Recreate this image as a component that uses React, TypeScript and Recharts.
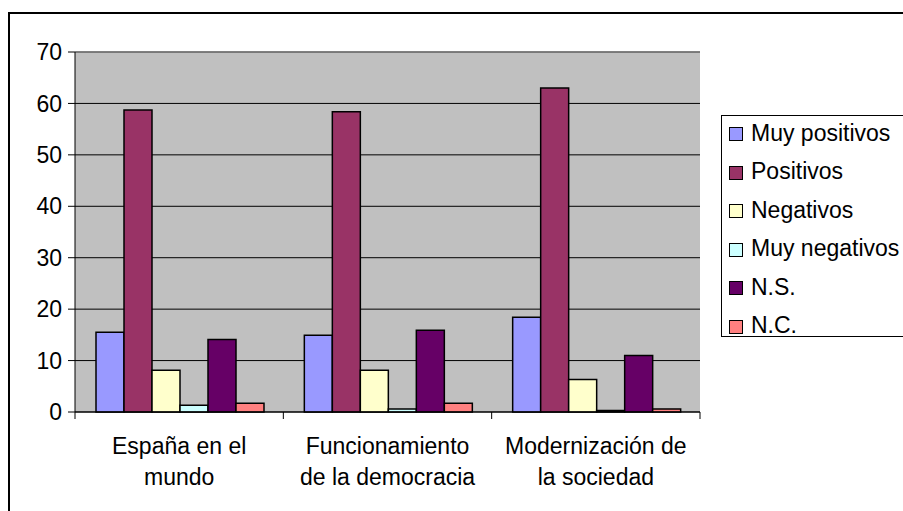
import { BarChart, Bar, XAxis, YAxis, CartesianGrid, Legend, ReferenceLine } from 'recharts'

const categories = ['España en el mundo', 'Funcionamiento de la democracia', 'Modernización de la sociedad']
const tickLines = [
  ['España en el', 'mundo'],
  ['Funcionamiento', 'de la democracia'],
  ['Modernización de', 'la sociedad'],
]
const yTicks = [0, 10, 20, 30, 40, 50, 60, 70]

const muyPositivos = [15.5, 14.9, 18.4]
const positivos = [58.7, 58.4, 63.0]
const negativos = [8.1, 8.1, 6.3]
const muyNegativos = [1.3, 0.6, 0.3]
const ns = [14.1, 15.9, 11.0]
const nc = [1.7, 1.7, 0.6]

const series = [
  { key: 'mp', name: 'Muy positivos', values: muyPositivos, color: '#9999FF' },
  { key: 'p', name: 'Positivos', values: positivos, color: '#993366' },
  { key: 'n', name: 'Negativos', values: negativos, color: '#FFFFCC' },
  { key: 'mn', name: 'Muy negativos', values: muyNegativos, color: '#CCFFFF' },
  { key: 'ns', name: 'N.S.', values: ns, color: '#660066' },
  { key: 'nc', name: 'N.C.', values: nc, color: '#FF8080' },
]

const data = categories.map((c, i) => {
  const row: Record<string, string | number> = { name: c }
  series.forEach(s => { row[s.key] = s.values[i] })
  return row
})

const W = 903
const H = 511
const margin = { top: 52, right: 203, left: 15, bottom: 19 }
const yAxisW = 60
const halfBand = (W - margin.left - margin.right - yAxisW) / categories.length / 2
const FONT = '"Liberation Sans", Arial, sans-serif'
const FS = 23

function CategoryTick(props: any) {
  const { x, y, index } = props
  const lines = tickLines[index] || []
  return (
    <g>
      <line x1={x - halfBand} x2={x - halfBand} y1={y} y2={y + 7} stroke="#000" />
      {index === categories.length - 1 && (
        <line x1={x + halfBand} x2={x + halfBand} y1={y} y2={y + 7} stroke="#000" />
      )}
      {lines.map((l, i) => (
        <text key={i} x={x} y={y + 42 + i * 31} textAnchor="middle" fontSize={FS} fontFamily={FONT} fill="#000">
          {l}
        </text>
      ))}
    </g>
  )
}

function LegendBox() {
  return (
    <div style={{ border: '1px solid #000', background: '#fff', width: 220, height: 222, boxSizing: 'border-box' }}>
      <div style={{ transform: 'translateY(-2px)' }}>
        {series.map(s => (
          <div key={s.key} style={{ display: 'flex', alignItems: 'center', height: 38.5, fontFamily: FONT, fontSize: FS, color: '#000' }}>
            <span style={{ display: 'inline-block', width: 12, height: 12, border: '1px solid #000', background: s.color, marginLeft: 7, marginRight: 8, marginTop: 2, flexShrink: 0 }} />
            <span style={{ whiteSpace: 'nowrap' }}>{s.name}</span>
          </div>
        ))}
      </div>
    </div>
  )
}

export default function App() {
  return (
    <div style={{ position: 'fixed', left: 0, top: 0, width: W, height: H, overflow: 'hidden', background: '#fff', fontFamily: FONT }}>
      <div style={{ position: 'absolute', left: 8, top: 12, width: 1000, height: 600, border: '2px solid #000' }} />
      <div style={{ position: 'absolute', left: 0, top: 0 }}>
        <BarChart width={W} height={H} data={data} margin={margin} barCategoryGap={21} barGap={0}>
          <CartesianGrid vertical={false} fill="#C0C0C0" stroke="#000" fillOpacity={1} />
          <ReferenceLine y={70} stroke="#808080" strokeWidth={1.5} ifOverflow="visible" />
          <XAxis
            dataKey="name"
            height={80}
            axisLine={{ stroke: '#000' }}
            tickLine={false}
            tickSize={0}
            tickMargin={0}
            interval={0}
            tick={<CategoryTick />}
          />
          <YAxis
            domain={[0, 70]}
            ticks={yTicks}
            width={yAxisW}
            axisLine={{ stroke: '#000' }}
            tickLine={{ stroke: '#000' }}
            tickSize={7}
            tickMargin={6}
            tick={{ fontSize: FS, fontFamily: FONT, fill: '#000' }}
          />
          <YAxis
            yAxisId="r"
            orientation="right"
            width={0}
            domain={[0, 70]}
            tick={false}
            tickLine={false}
            axisLine={{ stroke: '#808080', strokeWidth: 1.5 }}
          />
          {series.map(s => (
            <Bar key={s.key} dataKey={s.key} name={s.name} fill={s.color} stroke="#000" strokeWidth={1.5} isAnimationActive={false} />
          ))}
          <Legend
            layout="vertical"
            align="center"
            verticalAlign="middle"
            content={<LegendBox />}
            wrapperStyle={{ left: 721, top: 115, width: 220, height: 222 }}
          />
        </BarChart>
      </div>
    </div>
  )
}
